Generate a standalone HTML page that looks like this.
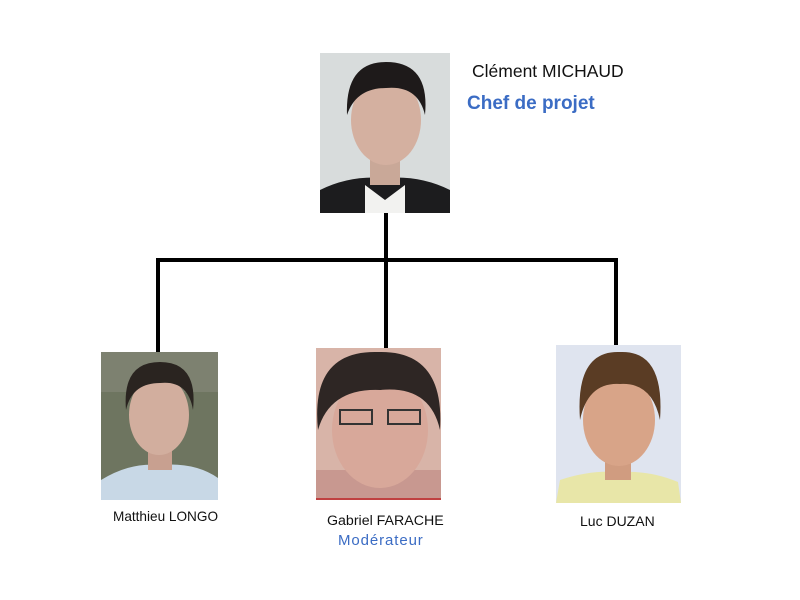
<!DOCTYPE html>
<html><head><meta charset="utf-8"><style>
body{margin:0;background:#fff;width:800px;height:600px;overflow:hidden;position:relative;font-family:"Liberation Sans",sans-serif}
.t{position:absolute;white-space:nowrap}
</style></head><body>
<svg width="800" height="600" style="position:absolute;left:0;top:0">
<g stroke="#000" stroke-width="4" fill="none">
<line x1="386" y1="213" x2="386" y2="348"/>
<line x1="157" y1="260" x2="618" y2="260"/>
<line x1="158" y1="258" x2="158" y2="352"/>
<line x1="616" y1="258" x2="616" y2="345"/>
</g>
<rect x="320" y="53" width="130" height="160" fill="#d8dcdc"/>
<path d="M320 213 L320 190 Q350 175 385 178 Q420 175 450 190 L450 213Z" fill="#1c1c1e"/>
<path d="M365 185 L385 200 L405 185 L405 213 L365 213Z" fill="#f2f2f0"/>
<rect x="370" y="150" width="30" height="35" fill="#c9a898"/>
<ellipse cx="386" cy="120" rx="35" ry="45" fill="#d4b0a0"/>
<path d="M347 115 Q345 62 386 62 Q430 62 425 115 Q418 85 386 88 Q356 88 347 115Z" fill="#1e1a1a"/>
<rect x="101" y="352" width="117" height="148" fill="#6e7560"/>
<rect x="101" y="352" width="117" height="40" fill="#7d8170"/>
<path d="M101 500 L101 480 Q130 462 160 465 Q195 462 218 478 L218 500Z" fill="#c8d8e6"/>
<rect x="148" y="445" width="24" height="25" fill="#c8a090"/>
<ellipse cx="159" cy="415" rx="30" ry="40" fill="#d2ae9e"/>
<path d="M126 410 Q122 362 160 362 Q198 362 193 410 Q188 380 160 383 Q132 383 126 410Z" fill="#2a2420"/>
<rect x="316" y="348" width="125" height="152" fill="#d8b4a8"/>
<rect x="316" y="470" width="125" height="30" fill="#c89890"/>
<ellipse cx="380" cy="430" rx="48" ry="58" fill="#d8a89a"/>
<path d="M318 430 Q310 350 378 352 Q445 350 440 430 Q430 385 380 390 Q330 388 318 430Z" fill="#2e2624"/>
<rect x="340" y="410" width="32" height="14" fill="none" stroke="#333" stroke-width="2"/>
<rect x="388" y="410" width="32" height="14" fill="none" stroke="#333" stroke-width="2"/>
<rect x="316" y="498" width="125" height="2" fill="#c04040"/>
<rect x="556" y="345" width="125" height="158" fill="#dfe4ef"/>
<path d="M556 503 L560 480 Q590 470 618 472 Q650 470 678 482 L681 503Z" fill="#e8e6a8"/>
<rect x="605" y="455" width="26" height="25" fill="#d09c80"/>
<ellipse cx="619" cy="420" rx="36" ry="46" fill="#d8a488"/>
<path d="M580 420 Q575 350 620 352 Q665 350 660 420 Q652 382 620 384 Q588 382 580 420Z" fill="#5a3c24"/>
</svg>
<div class="t" style="left:472px;top:61px;font-size:17.5px;color:#111">Clément MICHAUD</div>
<div class="t" style="left:467px;top:93px;font-size:19px;font-weight:bold;color:#3b6cc4">Chef de projet</div>
<div class="t" style="left:113px;top:509px;font-size:13.6px;color:#111">Matthieu LONGO</div>
<div class="t" style="left:327px;top:513px;font-size:14.2px;color:#111">Gabriel FARACHE</div>
<div class="t" style="left:338px;top:532px;font-size:15px;letter-spacing:0.9px;color:#3b6cc4">Modérateur</div>
<div class="t" style="left:580px;top:513px;font-size:14px;color:#111">Luc DUZAN</div>
</body></html>
